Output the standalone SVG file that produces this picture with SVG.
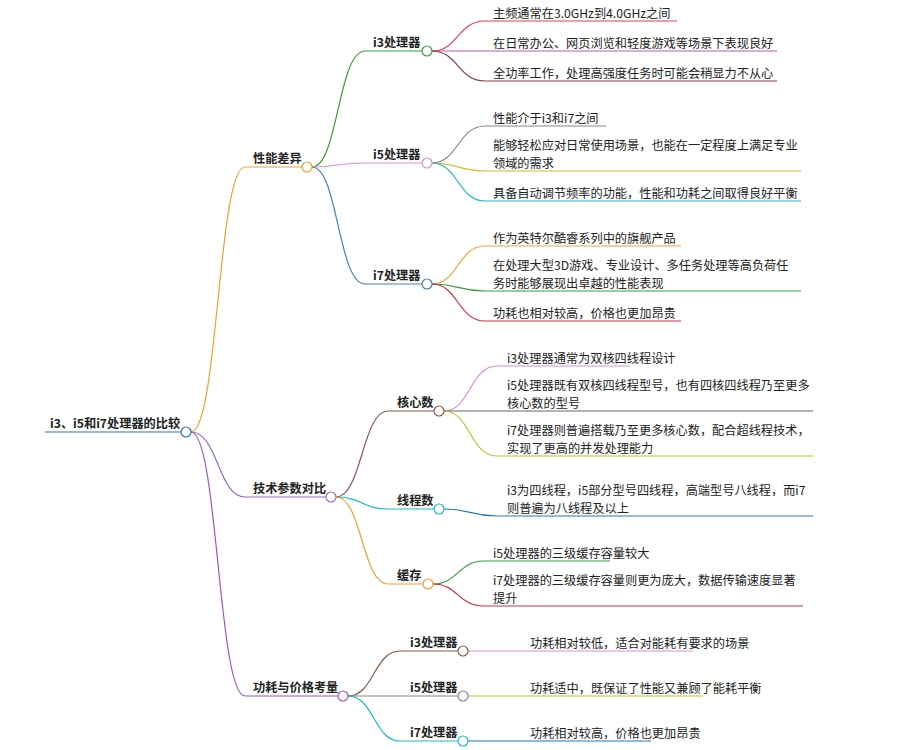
<svg xmlns="http://www.w3.org/2000/svg" width="902" height="750" viewBox="0 0 902 750">
<style>
text{font-family:"Noto Sans CJK SC","Noto Sans",sans-serif;font-size:12.2px;fill:#222}
.b{font-weight:bold;font-size:12.2px}
path{fill:none;stroke-width:1.2}
circle{fill:#fff;stroke-width:1.2}
</style>
<rect width="902" height="750" fill="#fff"/>
<g id="connectors">
<path d="M45 432H181" stroke="#2e75b6" stroke-width="3"/>
<path d="M191 432C218 432 218 167 245 167H302" stroke="#f0a030" stroke-width="1.6"/>
<path d="M191 432C218 432 218 497 245 497H326" stroke="#9a6fb5" stroke-width="1.6"/>
<path d="M191 432C218 432 218 696 245 696H338" stroke="#9b59b6" stroke-width="1.6"/>
<path d="M312 167C338 167 338 51 365 51H422" stroke="#3c9a3c"/>
<path d="M312 167C338 167 338 163 365 163H422" stroke="#d98fd0"/>
<path d="M312 167C338 167 338 284 365 284H422" stroke="#4a7fa8"/>
<path d="M432 51C458 51 458 21 485 21H677" stroke="#e04050"/>
<path d="M432 51C458 51 458 51 485 51H777" stroke="#b060b0"/>
<path d="M432 51C458 51 458 81 485 81H777" stroke="#8b4040"/>
<path d="M432 163C458 163 458 126 485 126H606" stroke="#888"/>
<path d="M432 163C458 163 458 171 485 171H801" stroke="#c8c020"/>
<path d="M432 163C458 163 458 201 485 201H801" stroke="#20b0c8"/>
<path d="M432 284C458 284 458 246 485 246H681" stroke="#f0a030"/>
<path d="M432 284C458 284 458 291 485 291H801" stroke="#3c9a3c"/>
<path d="M432 284C458 284 458 321 485 321H681" stroke="#d03040"/>
<path d="M336 497C362 497 362 411 388 411H434" stroke="#8b5a4a"/>
<path d="M336 497C362 497 362 509 388 509H434" stroke="#20b8c8"/>
<path d="M336 497C362 497 362 584 388 584H423" stroke="#f0a030"/>
<path d="M444 411C470 411 470 366 497 366H630" stroke="#d98fd0"/>
<path d="M444 411C470 411 470 411 497 411H813" stroke="#666"/>
<path d="M444 411C470 411 470 456 497 456H813" stroke="#c8c020"/>
<path d="M444 509C470 509 470 516 497 516H813" stroke="#2e75b6"/>
<path d="M433 584C458 584 458 561 484 561H610" stroke="#3c9a3c"/>
<path d="M433 584C458 584 458 606 484 606H803" stroke="#d03040"/>
<path d="M348 696C374 696 374 651 400 651H458" stroke="#8b5a4a"/>
<path d="M348 696H458" stroke="#888"/>
<path d="M348 696C374 696 374 741 400 741H458" stroke="#20b8c8"/>
<path d="M468 651H693" stroke="#d98fd0"/>
<path d="M468 696H703" stroke="#c8c020"/>
<path d="M468 741H651" stroke="#2e75b6"/>
</g>
<g id="root"><text x="50" y="428" class="b">i3、i5和i7处理器的比较</text><circle cx="186" cy="432" r="5" stroke="#2e75b6"/></g>
<g id="n-perf"><text x="253" y="163" class="b">性能差异</text><circle cx="307" cy="167" r="5" stroke="#f0a030"/></g>
<g id="n-tech"><text x="253" y="493" class="b">技术参数对比</text><circle cx="331" cy="497" r="5" stroke="#9a6fb5"/></g>
<g id="n-power"><text x="253" y="692" class="b">功耗与价格考量</text><circle cx="343" cy="696" r="5" stroke="#9b59b6"/></g>
<g id="p-i3"><text x="373" y="47" class="b">i3处理器</text><circle cx="427" cy="51" r="5" stroke="#3c9a3c"/></g>
<g id="p-i5"><text x="373" y="159" class="b">i5处理器</text><circle cx="427" cy="163" r="5" stroke="#d98fd0"/></g>
<g id="p-i7"><text x="373" y="280" class="b">i7处理器</text><circle cx="427" cy="284" r="5" stroke="#4a7fa8"/></g>
<g id="l1"><text x="493" y="18">主频通常在3.0GHz到4.0GHz之间</text></g>
<g id="l2"><text x="493" y="48">在日常办公、网页浏览和轻度游戏等场景下表现良好</text></g>
<g id="l3"><text x="493" y="78">全功率工作，处理高强度任务时可能会稍显力不从心</text></g>
<g id="l4"><text x="493" y="123">性能介于i3和i7之间</text></g>
<g id="l5"><text x="493" y="150">能够轻松应对日常使用场景，也能在一定程度上满足专业<tspan x="493" dy="18">领域的需求</tspan></text></g>
<g id="l6"><text x="493" y="198">具备自动调节频率的功能，性能和功耗之间取得良好平衡</text></g>
<g id="l7"><text x="493" y="243">作为英特尔酷睿系列中的旗舰产品</text></g>
<g id="l8"><text x="493" y="270">在处理大型3D游戏、专业设计、多任务处理等高负荷任<tspan x="493" dy="18">务时能够展现出卓越的性能表现</tspan></text></g>
<g id="l9"><text x="493" y="318">功耗也相对较高，价格也更加昂贵</text></g>
<g id="t-core"><text x="397" y="407" class="b">核心数</text><circle cx="439" cy="411" r="5" stroke="#8b5a4a"/></g>
<g id="t-thread"><text x="397" y="505" class="b">线程数</text><circle cx="439" cy="509" r="5" stroke="#20b8c8"/></g>
<g id="t-cache"><text x="397" y="580" class="b">缓存</text><circle cx="428" cy="584" r="5" stroke="#f0a030"/></g>
<g id="l10"><text x="507" y="363">i3处理器通常为双核四线程设计</text></g>
<g id="l11"><text x="507" y="390">i5处理器既有双核四线程型号，也有四核四线程乃至更多<tspan x="507" dy="18">核心数的型号</tspan></text></g>
<g id="l12"><text x="507" y="435">i7处理器则普遍搭载乃至更多核心数，配合超线程技术，<tspan x="507" dy="18">实现了更高的并发处理能力</tspan></text></g>
<g id="l13"><text x="507" y="495">i3为四线程，i5部分型号四线程，高端型号八线程，而i7<tspan x="507" dy="18">则普遍为八线程及以上</tspan></text></g>
<g id="l14"><text x="493" y="558">i5处理器的三级缓存容量较大</text></g>
<g id="l15"><text x="493" y="585">i7处理器的三级缓存容量则更为庞大，数据传输速度显著<tspan x="493" dy="18">提升</tspan></text></g>
<g id="w-i3"><text x="410" y="647" class="b">i3处理器</text><circle cx="463" cy="651" r="5" stroke="#8b5a4a"/></g>
<g id="w-i5"><text x="410" y="692" class="b">i5处理器</text><circle cx="463" cy="696" r="5" stroke="#888"/></g>
<g id="w-i7"><text x="410" y="737" class="b">i7处理器</text><circle cx="463" cy="741" r="5" stroke="#20b8c8"/></g>
<g id="l16"><text x="530" y="648">功耗相对较低，适合对能耗有要求的场景</text></g>
<g id="l17"><text x="530" y="693">功耗适中，既保证了性能又兼顾了能耗平衡</text></g>
<g id="l18"><text x="530" y="738">功耗相对较高，价格也更加昂贵</text></g>
</svg>
